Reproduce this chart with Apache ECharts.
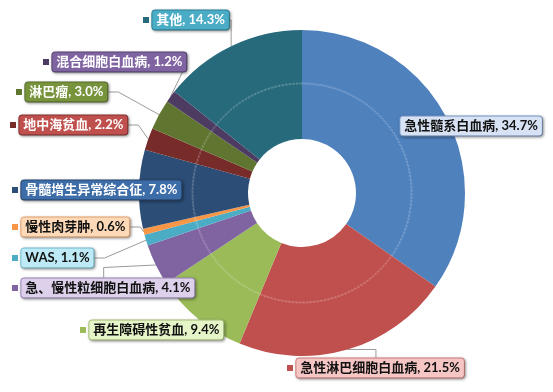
<!DOCTYPE html>
<html><head><meta charset="utf-8">
<script src="https://cdn.jsdelivr.net/npm/echarts@6/dist/echarts.min.js"></script>
<style>html,body{margin:0;padding:0;background:#fff}#c{width:553px;height:392px}</style>
</head><body><div id="c"></div>
<script>
const categories = ['急性髓系白血病','急性淋巴细胞白血病','再生障碍性贫血','急、慢性粒细胞白血病','WAS','慢性肉芽肿','骨髓增生异常综合征','地中海贫血','淋巴瘤','混合细胞白血病','其他'];
const values = [34.7, 21.5, 9.4, 4.1, 1.1, 0.6, 7.8, 2.2, 3.0, 1.2, 14.3];

const sliceColors = ['#4F81BD','#C0504D','#9BBB59','#8064A2','#4BACC6','#F79646','#2C4D75','#772C2A','#5F7530','#4D3B62','#276A7C'];
const boxBg = ['#D7E3F5','#F6C6C5','#E6F5C8','#DCD0EA','#BDEAF6','#FDD9B8','#3D6DA8','#C0504D','#77933C','#8064A2','#4BACC6'];
const boxBorder = ['#7E9FD0','#D98583','#B2CC80','#A48FC0','#7CC8DC','#F4AE73','#2C4D75','#8C3836','#5F7530','#5E4A7A','#2E8AA3'];
const textCol = ['#111','#111','#111','#111','#111','#111','#fff','#fff','#fff','#fff','#fff'];
// label anchor (left-middle of legend square)
const labelPos = [[391,126],[287,368],[80,330],[12,288],[12,258],[12,227],[12,190],[10,125],[16,92],[43,62],[143,20]];
const showLine = [false,true,true,true,true,true,false,true,true,true,true];

const chart = echarts.init(document.getElementById('c'));
const FONT = 'Lato, "Noto Sans CJK SC", sans-serif';
const data = categories.map((n,i)=>({
  name:n, value:values[i],
  itemStyle:{color:sliceColors[i]},
  label:{
    formatter: p => '{sq| } {box|' + p.name + ', ' + p.value.toFixed(1) + '%}',
    rich:{
      sq:{width:6,height:6,backgroundColor: i===0 ? 'transparent' : sliceColors[i]},
      box:{
        color:textCol[i], fontFamily:FONT, fontSize:13, fontWeight:'bold',
        backgroundColor:boxBg[i], borderColor:boxBorder[i], borderWidth:1, borderRadius:3,
        padding:[3,4,3,4], lineHeight:14,
        shadowColor:'rgba(0,0,0,0.35)', shadowBlur:3, shadowOffsetX:1, shadowOffsetY:1
      }
    }
  },
  labelLine:{show:showLine[i], lineStyle:{color:'#9a9a9a', width:1}}
}));

chart.setOption({
  animation:false,
  series:[{
    type:'pie',
    center:[302,193],
    radius:[54,163],
    startAngle:90,
    clockwise:true,
    avoidLabelOverlap:false,
    data:data,
    label:{show:true, position:'outside'},
    labelLine:{show:true, length:10, length2:10},
    labelLayout: function(params){
      const p = labelPos[params.dataIndex];
      return {x:p[0], y:p[1], align:'left', verticalAlign:'middle'};
    },
    emphasis:{disabled:true}
  },{
    type:'pie',
    center:[302,193],
    radius:[109,110],
    silent:true,
    label:{show:false},
    labelLine:{show:false},
    data:[{value:1, itemStyle:{color:'rgba(255,255,255,0.05)', borderColor:'rgba(255,255,255,0.35)', borderWidth:0.6, borderType:'dashed'}}],
    z:5
  }]
});
</script></body></html>
